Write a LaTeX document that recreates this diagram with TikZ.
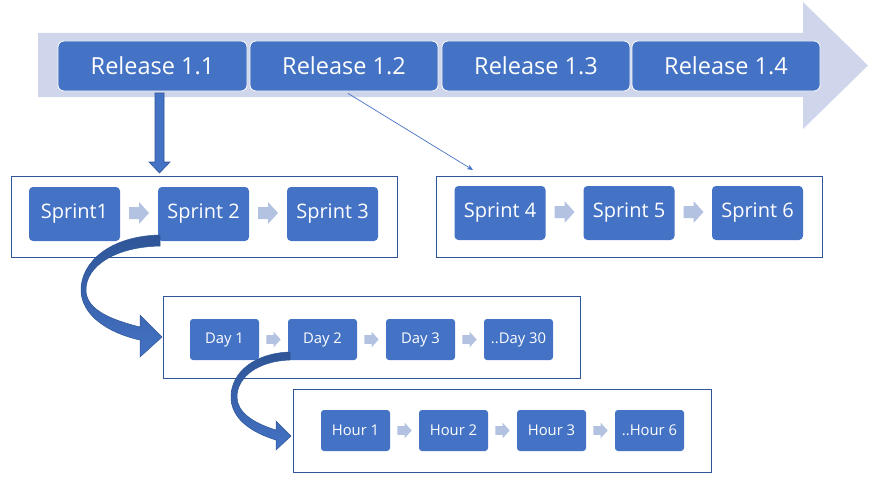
\documentclass[tikz,border=0pt]{standalone}
\usepackage{fontspec}
\setmainfont{Open Sans}
\usetikzlibrary{calc,arrows.meta}
\definecolor{nodeblue}{HTML}{4472C4}
\definecolor{darkblue}{HTML}{2F5597}
\definecolor{band}{HTML}{CFD5EA}
\definecolor{chev}{HTML}{B4C2E2}
\tikzset{
  rel/.style={fill=nodeblue,draw=white,line width=0.8pt,rounded corners=6pt,text=white,
    minimum width=188pt,minimum height=50pt,inner sep=0pt,font=\fontsize{23.5}{27}\selectfont},
  spr/.style={fill=nodeblue,rounded corners=4pt,text=white,
    minimum width=91pt,minimum height=54pt,inner sep=0pt,font=\fontsize{20}{24}\selectfont},
  small/.style={fill=nodeblue,rounded corners=3pt,text=white,
    minimum width=69pt,minimum height=41pt,inner sep=0pt,font=\fontsize{14.8}{17}\selectfont},
  frame/.style={draw=darkblue,line width=0.9pt,inner sep=0pt},
  curv/.style={draw=darkblue,line width=0.5pt,top color=darkblue,bottom color=nodeblue},
  chevron/.pic={\fill[chev] (-10,-6) -- (0,-6) -- (0,-11) -- (10,0) -- (0,11) -- (0,6) -- (-10,6) -- cycle;}
}
\begin{document}
\begin{tikzpicture}[x=1pt,y=-1pt]
\useasboundingbox (0,0) rectangle (875,487);
% big timeline arrow
\fill[band] (38,33) -- (803,33) -- (803,2) -- (868,65.5) -- (803,129) -- (803,97) -- (38,97) -- cycle;
% releases
\node[rel,minimum width=189pt] (r11) at (152.5,66) {Release 1.1};
\node[rel] (r12) at (344,66) {Release 1.2};
\node[rel] (r13) at (536,66) {Release 1.3};
\node[rel] (r14) at (726,66) {Release 1.4};
% frames
\node[frame,minimum width=386pt,minimum height=81pt] (sb1) at (204,217) {};
\node[frame,minimum width=386pt,minimum height=81pt] (sb2) at (629,216.5) {};
\node[frame,minimum width=417pt,minimum height=82pt] (db) at (371.5,337) {};
\node[frame,minimum width=418pt,minimum height=83pt] (hb) at (502,430.5) {};
% sprints
\node[spr] (s1) at (74.5,214) {Sprint1};
\node[spr] (s2) at (203.5,214) {Sprint 2};
\node[spr] (s3) at (332.5,214) {Sprint 3};
\node[spr] (s4) at (500,213) {Sprint 4};
\node[spr] (s5) at (629,213) {Sprint 5};
\node[spr] (s6) at (757.5,213) {Sprint 6};
\pic at (139,213) {chevron};
\pic at (268,213) {chevron};
\pic at (564.5,212) {chevron};
\pic at (693.5,212) {chevron};
% days
\node[small] (d1) at (224.5,339.5) {Day 1};
\node[small] (d2) at (322.5,339.5) {Day 2};
\node[small] (d3) at (420.5,339.5) {Day 3};
\node[small] (d30) at (518.5,339.5) {..Day 30};
\pic[scale=0.72] at (273.5,339.5) {chevron};
\pic[scale=0.72] at (371.5,339.5) {chevron};
\pic[scale=0.72] at (469.5,339.5) {chevron};
% hours
\node[small] (h1) at (355.5,430.5) {Hour 1};
\node[small] (h2) at (453.5,430.5) {Hour 2};
\node[small] (h3) at (551.5,430.5) {Hour 3};
\node[small] (h6) at (649.5,430.5) {..Hour 6};
\pic[scale=0.72] at (404.5,430.5) {chevron};
\pic[scale=0.72] at (502.5,430.5) {chevron};
\pic[scale=0.72] at (600.5,430.5) {chevron};
% block arrow release 1.1 -> sprints
\draw[fill=nodeblue,draw=darkblue,line width=0.6pt]
  (155,93) -- (164,93) -- (164,162) -- (170,162) -- (159.5,173) -- (149,162) -- (155,162) -- cycle;
% thin arrow release 1.2 -> sprint box 2
\coordinate (t1) at ($(r12.south)+(4,2)$);
\coordinate (t2) at (473,170);
\draw[nodeblue,line width=0.7pt,-{Stealth[length=6pt,width=5pt]}] (t1) -- (t2);
% curved arrow sprint 2 -> days
\draw[curv] (160,235) .. controls (110,236) and (81,262) .. (81,290)
  .. controls (81,315) and (108,333) .. (140,340) -- (140,357) -- (162,337) -- (140,315) -- (140,327)
  .. controls (112,320) and (86,310) .. (86,290) .. controls (86,266) and (115,247) .. (160,246) -- cycle;
% curved arrow day 2 -> hours
\draw[curv] (290,352) .. controls (255,353) and (231,372) .. (231,397)
  .. controls (231,418) and (250,432) .. (276,440) -- (276,450) -- (291,436) -- (276,421) -- (276,430)
  .. controls (253,423) and (237,412) .. (237,397) .. controls (237,377) and (258,361) .. (290,360) -- cycle;
\end{tikzpicture}
\end{document}
